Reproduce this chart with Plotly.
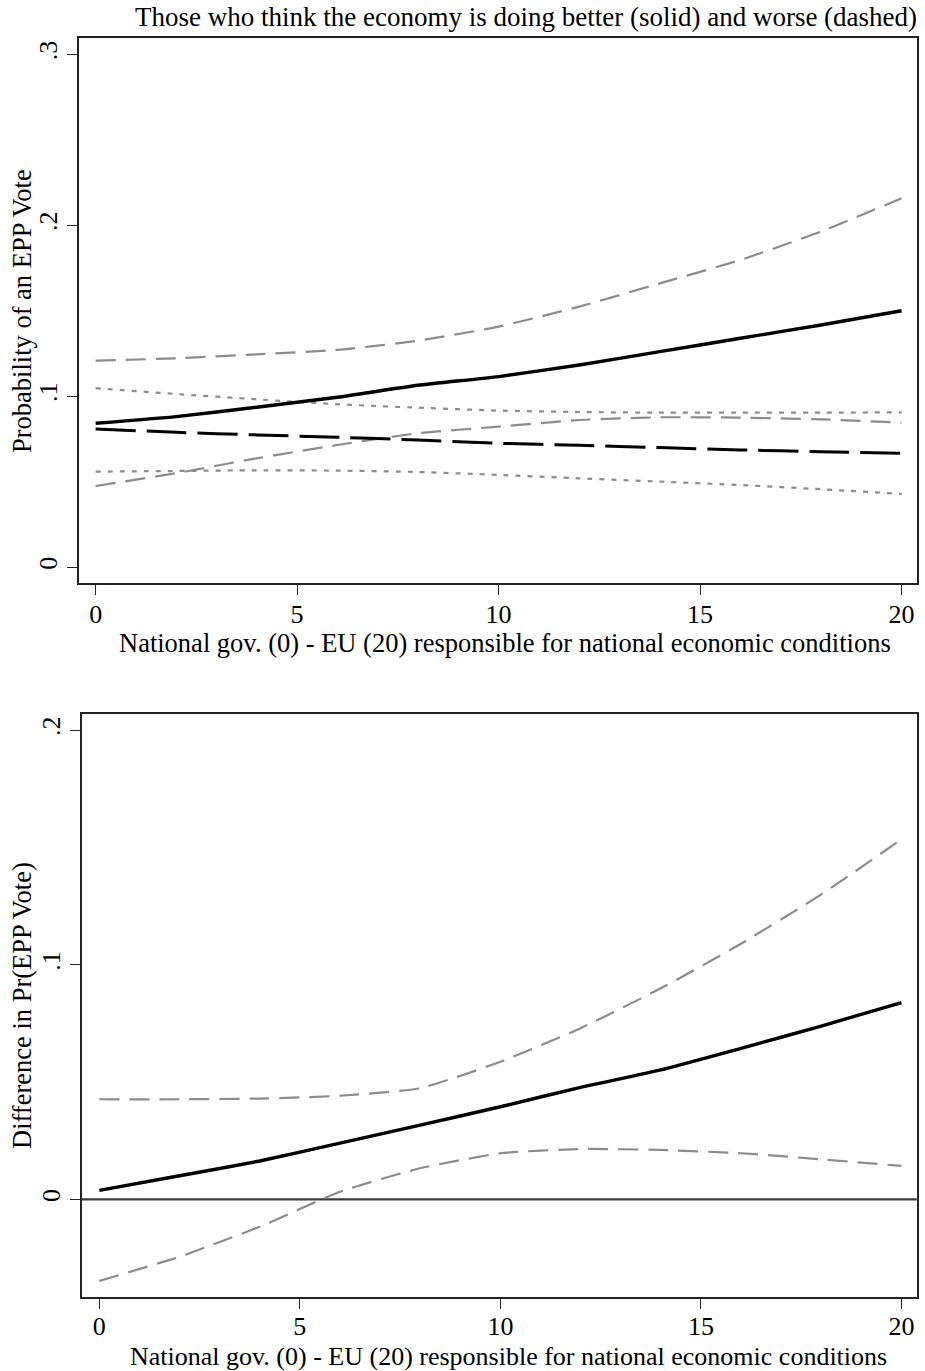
import plotly.graph_objects as go

# ---------------- data ----------------
x_vals = [0, 2, 4, 6, 8, 10, 12, 14, 16, 18, 20]

# Top panel: predicted probability of an EPP vote
better_est = [0.0842, 0.0881, 0.0936, 0.0994, 0.1064, 0.1115, 0.1183, 0.1261, 0.1339, 0.1417, 0.1500]
better_hi = [0.1208, 0.1222, 0.1245, 0.1271, 0.1325, 0.1407, 0.1524, 0.1660, 0.1797, 0.1963, 0.2158]
better_lo = [0.0475, 0.0550, 0.0637, 0.0715, 0.0784, 0.0822, 0.0861, 0.0877, 0.0875, 0.0865, 0.0846]
worse_est = [0.0809, 0.0789, 0.0774, 0.0760, 0.0744, 0.0725, 0.0713, 0.0700, 0.0686, 0.0676, 0.0667]
worse_hi = [0.1047, 0.1013, 0.0982, 0.0953, 0.0933, 0.0916, 0.0908, 0.0904, 0.0904, 0.0904, 0.0906]
worse_lo = [0.0559, 0.0563, 0.0567, 0.0565, 0.0557, 0.0540, 0.0520, 0.0501, 0.0481, 0.0456, 0.0429]

# Bottom panel: difference in Pr(EPP vote)
diff_est = [0.0039, 0.0101, 0.0164, 0.0240, 0.0317, 0.0395, 0.0478, 0.0552, 0.0644, 0.0739, 0.0839]
diff_hi = [0.0427, 0.0427, 0.0430, 0.0442, 0.0474, 0.0587, 0.0730, 0.0900, 0.1090, 0.1300, 0.1535]
diff_lo = [-0.0347, -0.0244, -0.0116, 0.0033, 0.0133, 0.0197, 0.0215, 0.0211, 0.0197, 0.0171, 0.0143]
ref_level = 0

x_ticks = [0, 5, 10, 15, 20]
x_tick_text = ["0", "5", "10", "15", "20"]
top_y_ticks = [0, 0.1, 0.2, 0.3]
top_y_text = ["0", ".1", ".2", ".3"]
bot_y_ticks = [0, 0.1, 0.2]
bot_y_text = ["0", ".1", ".2"]

title_text = "Those who think the economy is doing better (solid) and worse (dashed)"
x_title = "National gov. (0) - EU (20) responsible for national economic conditions"
top_y_title = "Probability of an EPP Vote"
bot_y_title = "Difference in Pr(EPP Vote)"

# ---------------- figure ----------------
W, H = 925, 1371
FONT = "Liberation Serif, Times New Roman, serif"
FS_TICK = 26
FS_TITLE = 27
FS_AX = 26.5
GRAY = "#8c8c8c"
BLACK = "#000000"
CI_DASH = "20px,10px"
DOT = "5px,7px"
LONG = "40px,11px"

fig = go.Figure()

def add(x, y, color, width, dash, xa, ya):
    fig.add_trace(go.Scatter(x=x, y=y, mode="lines", xaxis=xa, yaxis=ya,
                             line=dict(color=color, width=width, dash=dash, shape="spline", smoothing=0.5),
                             showlegend=False, hoverinfo="skip"))

# top panel
add(x_vals, worse_hi, GRAY, 2.2, DOT, "x", "y")
add(x_vals, worse_lo, GRAY, 2.2, DOT, "x", "y")
add(x_vals, better_hi, GRAY, 2.2, CI_DASH, "x", "y")
add(x_vals, better_lo, GRAY, 2.2, CI_DASH, "x", "y")
add(x_vals, worse_est, BLACK, 3, LONG, "x", "y")
add(x_vals, better_est, BLACK, 3.4, "solid", "x", "y")

# bottom panel
add(x_vals, diff_hi, GRAY, 2.2, CI_DASH, "x2", "y2")
add(x_vals, diff_lo, GRAY, 2.2, CI_DASH, "x2", "y2")
add(x_vals, diff_est, BLACK, 3.4, "solid", "x2", "y2")

def px_x(p):
    return p / W

def px_y(p):
    return 1 - p / H

def axis_style(**extra):
    d = dict(showline=True, mirror=True, linecolor="#222222", linewidth=1.6,
             ticks="outside", ticklen=10, tickwidth=1.4, tickcolor="#222222",
             showgrid=False, zeroline=False,
             tickfont=dict(family=FONT, size=FS_TICK, color="#000"))
    d.update(extra)
    return d

fig.update_layout(
    width=W, height=H,
    margin=dict(l=0, r=0, t=0, b=0),
    paper_bgcolor="white", plot_bgcolor="white",
    xaxis=axis_style(domain=[px_x(78.7), px_x(917.3)], range=[-0.42, 20.39],
                     tickvals=x_ticks, ticktext=x_tick_text, anchor="y", ticklabelstandoff=-3),
    yaxis=axis_style(domain=[px_y(583.3), px_y(37.7)], range=[-0.0094, 0.3097],
                     tickvals=top_y_ticks, ticktext=top_y_text, tickangle=-90, anchor="x"),
    xaxis2=axis_style(domain=[px_x(81.7), px_x(916.7)], range=[-0.44, 20.38],
                      tickvals=x_ticks, ticktext=x_tick_text, anchor="y2", ticklabelstandoff=-5),
    yaxis2=axis_style(domain=[px_y(1297.3), px_y(714)], range=[-0.0417, 0.2069],
                      tickvals=bot_y_ticks, ticktext=bot_y_text, tickangle=-90, anchor="x2"),
)

# horizontal reference line at zero in the bottom panel
fig.add_shape(type="line", xref="x2 domain", yref="y2", x0=0, x1=1, y0=ref_level, y1=ref_level,
              line=dict(color="#3a3a3a", width=2.2), layer="below")

def ann(text, x, y, size, angle=0):
    fig.add_annotation(text=text, x=px_x(x), y=px_y(y), xref="paper", yref="paper",
                       xanchor="center", yanchor="middle", textangle=angle, showarrow=False,
                       font=dict(family=FONT, size=size, color="#000"))

ann(title_text, 525.5, 17, FS_TITLE)
ann(x_title, 505, 643, FS_AX)
ann(x_title, 508, 1356, 26)
ann(top_y_title, 22, 311, FS_AX, -90)
ann(bot_y_title, 22, 1006, FS_AX, -90)

fig.write_html("out.html", config={"displayModeBar": False},
               post_script="document.body.style.margin='0';document.body.style.overflow='hidden';")
